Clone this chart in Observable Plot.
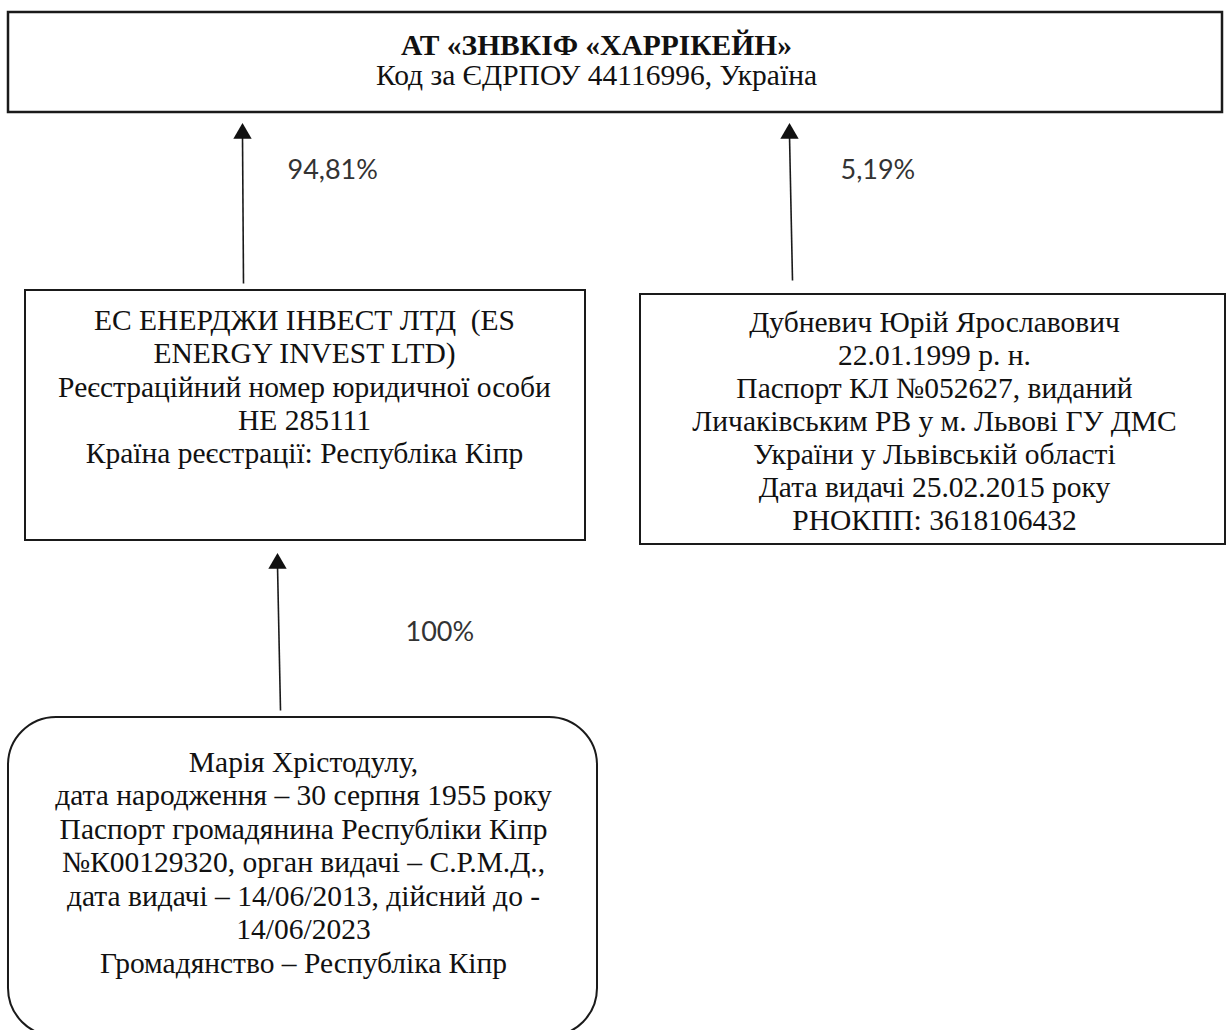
<!DOCTYPE html>
<html>
<head>
<meta charset="utf-8">
<script src="https://cdn.jsdelivr.net/npm/d3@7"></script>
<script src="https://cdn.jsdelivr.net/npm/@observablehq/plot@0.6"></script>
<style>
  html, body { margin: 0; padding: 0; background: #fff; }
  #chart { width: 1232px; height: 1030px; overflow: hidden; }
</style>
</head>
<body>
<div id="chart"></div>
<script>
// ---- Content (text of each node) ----
const nodeIds = ["fund", "es", "dub", "maria"];
const fundLines = ["АТ «ЗНВКІФ «ХАРРІКЕЙН»", "Код за ЄДРПОУ 44116996, Україна"];
const esLines = [
  "ЕС ЕНЕРДЖИ ІНВЕСТ ЛТД  (ES",
  "ENERGY INVEST LTD)",
  "Реєстраційний номер юридичної особи",
  "НЕ 285111",
  "Країна реєстрації: Республіка Кіпр"
];
const dubLines = [
  "Дубневич Юрій Ярославович",
  "22.01.1999 р. н.",
  "Паспорт КЛ №052627, виданий",
  "Личаківським РВ у м. Львові ГУ ДМС",
  "України у Львівській області",
  "Дата видачі 25.02.2015 року",
  "РНОКПП: 3618106432"
];
const mariaLines = [
  "Марія Хрістодулу,",
  "дата народження – 30 серпня 1955 року",
  "Паспорт громадянина Республіки Кіпр",
  "№К00129320, орган видачі – С.Р.М.Д.,",
  "дата видачі – 14/06/2013, дійсний до -",
  "14/06/2023",
  "Громадянство – Республіка Кіпр"
];
// ownership links: owner -> owned, share
const linkFrom = ["es", "dub", "maria"];
const linkTo = ["fund", "fund", "es"];
const shares = ["94,81%", "5,19%", "100%"];

// ---- Layout (positions in page pixels) ----
const layout = {
  fund:  {x1: 8,   x2: 1222, y1: 12,  y2: 112,  cx: 596, ty: 45,  dy: 30,   sw: 2.5, round: false},
  es:    {x1: 25,  x2: 585,  y1: 290, y2: 540,  cx: 304, ty: 320, dy: 33.3, sw: 2,   round: false},
  dub:   {x1: 640, x2: 1225, y1: 294, y2: 544,  cx: 934, ty: 322, dy: 33,   sw: 2,   round: false},
  maria: {x1: 8,   x2: 597,  y1: 717, y2: 1036, cx: 303, ty: 762, dy: 33.5, sw: 2,   round: true}
};
const arrowGeom = [
  {x1: 243, x2: 242, yStart: 283, yTip: 123, lx: 287, ly: 170},
  {x1: 792, x2: 789, yStart: 280, yTip: 123, lx: 840, ly: 170},
  {x1: 280, x2: 277, yStart: 710, yTip: 553, lx: 405, ly: 632}
];

const linesById = {fund: fundLines, es: esLines, dub: dubLines, maria: mariaLines};

const boxes = nodeIds.map(id => ({id, ...layout[id]}));
const textRows = nodeIds.flatMap(id => linesById[id].map((t, i) => ({
  text: t,
  x: layout[id].cx,
  y: layout[id].ty + i * layout[id].dy,
  bold: id === "fund" && i === 0
})));
const arrows = shares.map((s, i) => ({share: s, from: linkFrom[i], to: linkTo[i], ...arrowGeom[i]}));

const chart = Plot.plot({
  width: 1232,
  height: 1030,
  margin: 0,
  x: {domain: [0, 1232], axis: null},
  y: {domain: [0, 1030], axis: null, reverse: true},
  style: {background: "#fff", overflow: "hidden"},
  marks: [
    Plot.rect(boxes.filter(d => !d.round && d.id === "fund"), {
      x1: "x1", x2: "x2", y1: "y1", y2: "y2",
      fill: "none", stroke: "#1a1a1a", strokeWidth: 2.5
    }),
    Plot.rect(boxes.filter(d => !d.round && d.id !== "fund"), {
      x1: "x1", x2: "x2", y1: "y1", y2: "y2",
      fill: "none", stroke: "#1a1a1a", strokeWidth: 2
    }),
    Plot.rect(boxes.filter(d => d.round), {
      x1: "x1", x2: "x2", y1: "y1", y2: "y2", rx: 48,
      fill: "none", stroke: "#1a1a1a", strokeWidth: 2
    }),
    Plot.link(arrows, {
      x1: "x1", x2: "x2", y1: "yStart", y2: d => d.yTip + 12,
      stroke: "#1a1a1a", strokeWidth: 1.6
    }),
    Plot.dot(arrows, {
      x: "x2", y: d => d.yTip + 10, symbol: "triangle", r: 6.8,
      fill: "#111", stroke: null
    }),
    Plot.text(arrows, {
      x: "lx", y: "ly", text: "share", textAnchor: "start",
      fontFamily: "Lato", fontSize: 27, fill: "#333"
    }),
    Plot.text(textRows.filter(d => !d.bold), {
      x: "x", y: "y", text: "text", fontSize: 29.5,
      fontFamily: "Liberation Serif", fill: "#111", lineAnchor: "middle"
    }),
    Plot.text(textRows.filter(d => d.bold), {
      x: "x", y: "y", text: "text", fontSize: 29.5, fontWeight: "bold",
      fontFamily: "Liberation Serif", fill: "#111", lineAnchor: "middle"
    })
  ]
});
document.getElementById("chart").appendChild(chart);
</script>
</body>
</html>
